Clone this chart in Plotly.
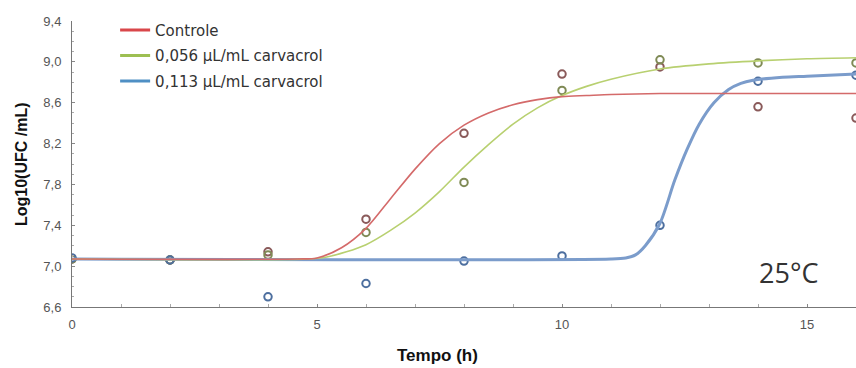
import plotly.graph_objects as go

# Observed data points (time in h, log10 UFC/mL)
t_obs = [0, 2, 4, 6, 8, 10, 12, 14, 16]
controle_obs = [7.07, 7.06, 7.14, 7.46, 8.30, 8.88, 8.95, 8.56, 8.45]
c056_obs = [7.07, 7.06, 7.11, 7.33, 7.82, 8.72, 9.02, 8.99, 8.99]
c113_obs = [7.08, 7.06, 6.70, 6.83, 7.05, 7.10, 7.40, 8.81, 8.87]

# Fitted curves
controle_t = [0, 4.6, 5.0, 5.5, 6.0, 6.5, 7.0, 7.5, 8.0, 8.5, 9.0, 9.5, 10.0, 10.5, 11.0, 12.0, 16.0]
controle_y = [7.07, 7.07, 7.08, 7.18, 7.37, 7.66, 7.95, 8.20, 8.38, 8.50, 8.58, 8.63, 8.66, 8.67, 8.68, 8.69, 8.69]

c056_t = [0, 4.8, 5.2, 5.6, 6.0, 6.5, 7.0, 7.5, 8.0, 8.5, 9.0, 9.5, 10.0, 10.5, 11.0, 12.0, 13.0, 14.0, 15.0, 16.0]
c056_y = [7.07, 7.07, 7.09, 7.14, 7.21, 7.35, 7.52, 7.73, 7.97, 8.19, 8.39, 8.55, 8.67, 8.76, 8.83, 8.93, 8.98, 9.01, 9.03, 9.04]

c113_t = [0, 11.0, 11.3, 11.5, 11.7, 12.0, 12.3, 12.55, 12.8, 13.1, 13.4, 13.65, 13.9, 14.5, 15.0, 16.0]
c113_y = [7.07, 7.07, 7.08, 7.11, 7.20, 7.42, 7.84, 8.14, 8.39, 8.60, 8.73, 8.79, 8.82, 8.85, 8.86, 8.88]

series_names = ["Controle", "0,056 µL/mL carvacrol", "0,113 µL/mL carvacrol"]
legend_colors = ["#d9474a", "#9dbf52", "#4f8fc4"]
curve_colors = ["#d46a6a", "#b8d070", "#7b9ccb"]
curve_widths = [1.6, 1.6, 3]
marker_colors = ["#8a5a5a", "#7f8a55", "#4d6f9f"]

y_ticks = [6.6, 7.0, 7.4, 7.8, 8.2, 8.6, 9.0, 9.4]
y_ticktext = ["6,6", "7,0", "7,4", "7,8", "8,2", "8,6", "9,0", "9,4"]
x_ticks = [0, 5, 10, 15]

fig = go.Figure()

curves = [(controle_t, controle_y), (c056_t, c056_y), (c113_t, c113_y)]
obs = [controle_obs, c056_obs, c113_obs]

for i in range(3):
    fig.add_trace(go.Scatter(
        x=t_obs, y=obs[i], mode="markers", showlegend=False,
        marker=dict(symbol="circle-open", size=7.5, color=marker_colors[i],
                    line=dict(width=2, color=marker_colors[i])),
        hoverinfo="skip"))

for i in [2, 1, 0]:
    t, y = curves[i]
    fig.add_trace(go.Scatter(
        x=t, y=y, mode="lines", name=series_names[i], showlegend=False,
        line=dict(color=curve_colors[i], width=curve_widths[i], shape="spline", smoothing=0.8)))

for i in range(3):
    fig.add_trace(go.Scatter(
        x=[None], y=[None], mode="lines", name=series_names[i], legendgroup="g%d" % i,
        line=dict(color=legend_colors[i], width=3)))

axis_font = dict(family="Liberation Sans, Arial", size=13, color="#555555")

fig.update_layout(
    width=856, height=368,
    margin=dict(l=72, r=0, t=21, b=61),
    plot_bgcolor="white", paper_bgcolor="white",
    showlegend=True,
    legend=dict(x=0.055, y=1.025, xanchor="left", yanchor="top",
                bgcolor="rgba(0,0,0,0)",
                font=dict(family="DejaVu Sans, Liberation Sans", size=15, color="#333333"),
                tracegroupgap=3),
    xaxis=dict(range=[0, 16], tickvals=x_ticks, ticks="inside", ticklen=3, tickcolor="#888888",
               showline=True, linecolor="#777777", linewidth=1, showgrid=False, zeroline=False,
               tickfont=axis_font, ticklabelstandoff=5,
               minor=dict(dtick=1, ticks="inside", ticklen=3, tickcolor="#aaaaaa")),
    yaxis=dict(range=[6.6, 9.4], tickvals=y_ticks, ticktext=y_ticktext, ticks="inside", ticklen=3,
               tickcolor="#888888", showline=True, linecolor="#777777", linewidth=1, showgrid=False,
               zeroline=False, tickfont=axis_font, ticklabelstandoff=7,
               minor=dict(dtick=0.1, tick0=6.6, ticks="inside", ticklen=2, tickcolor="#aaaaaa")),
    annotations=[
        dict(text="<b>Tempo (h)</b>", xref="paper", yref="paper", x=(437 - 72) / 784,
             y=-(355 - 307) / 286, xanchor="center", yanchor="middle", showarrow=False,
             font=dict(family="Liberation Sans, Arial", size=17, color="#111111")),
        dict(text="<b>Log10(UFC /mL)</b>", xref="paper", yref="paper", x=-(72 - 21) / 784, y=0.5,
             xanchor="center", yanchor="middle", textangle=-90, showarrow=False,
             font=dict(family="Liberation Sans, Arial", size=16, color="#111111")),
        dict(text="25°C", xref="paper", yref="paper", x=(788 - 72) / 784, y=(307 - 272) / 286,
             xanchor="center", yanchor="middle", showarrow=False,
             font=dict(family="Open Sans, DejaVu Sans", size=27, color="#333333")),
    ],
)

fig.write_html("out.html")
